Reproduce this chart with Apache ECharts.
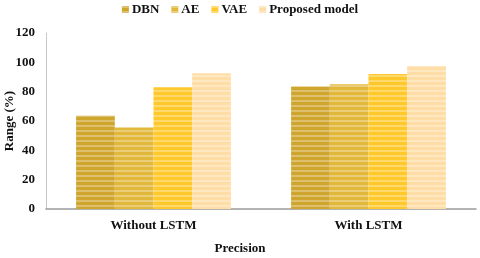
<!DOCTYPE html>
<html><head><meta charset="utf-8">
<script src="https://cdn.jsdelivr.net/npm/echarts@6/dist/echarts.min.js"></script>
<style>html,body{margin:0;padding:0;background:#fff}#c{width:480px;height:258px}</style>
</head><body><div id="c"></div>
<script>
const categories = ['Without LSTM', 'With LSTM'];
const seriesNames = ['DBN', 'AE', 'VAE', 'Proposed model'];
const dbn = [63.5, 83.5];
const ae = [55.5, 85];
const vae = [83, 92];
const proposed = [92.5, 97.5];
const yTicks = [0, 20, 40, 60, 80, 100, 120];
const colors = ['#CFA52E', '#E2B83C', '#FFC92C', '#FFDDA6'];
const values = [dbn, ae, vae, proposed];
const font = '"Liberation Serif", "Times New Roman", serif';

const chart = echarts.init(document.getElementById('c'), null, {renderer: 'canvas'});
chart.setOption({
  animation: false,
  legend: {
    top: -2, left: 'center',
    itemWidth: 7, itemHeight: 7, itemGap: 12,
    icon: 'rect',
    textStyle: {fontFamily: font, fontWeight: 'bold', fontSize: 13, color: '#111', padding: [0, 0, 0, -2]},
    data: seriesNames
  },
  grid: {left: 46, right: 4, top: 33, bottom: 49, containLabel: false, outerBoundsMode: 'none'},
  xAxis: {
    type: 'category', data: categories,
    axisTick: {show: false},
    axisLine: {lineStyle: {color: '#9a9a9a', width: 1.5}},
    axisLabel: {fontFamily: font, fontWeight: 'bold', fontSize: 13, color: '#111', margin: 10}
  },
  yAxis: {
    type: 'value', min: 0, max: 120, interval: 20,
    axisLine: {show: true, lineStyle: {color: '#c8c8c8'}},
    axisTick: {show: false},
    splitLine: {show: false},
    axisLabel: {fontFamily: font, fontWeight: 'bold', fontSize: 13, color: '#111', margin: 11,
      formatter: v => yTicks.includes(v) ? String(v) : ''}
  },
  graphic: [{
    type: 'text', left: 'center', top: 242,
    style: {text: 'Precision', font: 'bold 13px ' + font, fill: '#111'}
  }, {
    type: 'text', x: 3, y: 121, rotation: Math.PI / 2,
    style: {text: 'Range (%)', font: 'bold 13px ' + font, fill: '#111', align: 'center', verticalAlign: 'top'}
  }],
  series: seriesNames.map((n, i) => ({
    name: n, type: 'bar', data: values[i],
    barGap: '0%', barCategoryGap: '28%',
    itemStyle: {
      color: colors[i],
      decal: {symbol: 'rect', symbolSize: 1, dashArrayX: [1, 0], dashArrayY: [2, 3], color: 'rgba(255,255,255,0.3)'}
    }
  }))
});
</script>
</body></html>
